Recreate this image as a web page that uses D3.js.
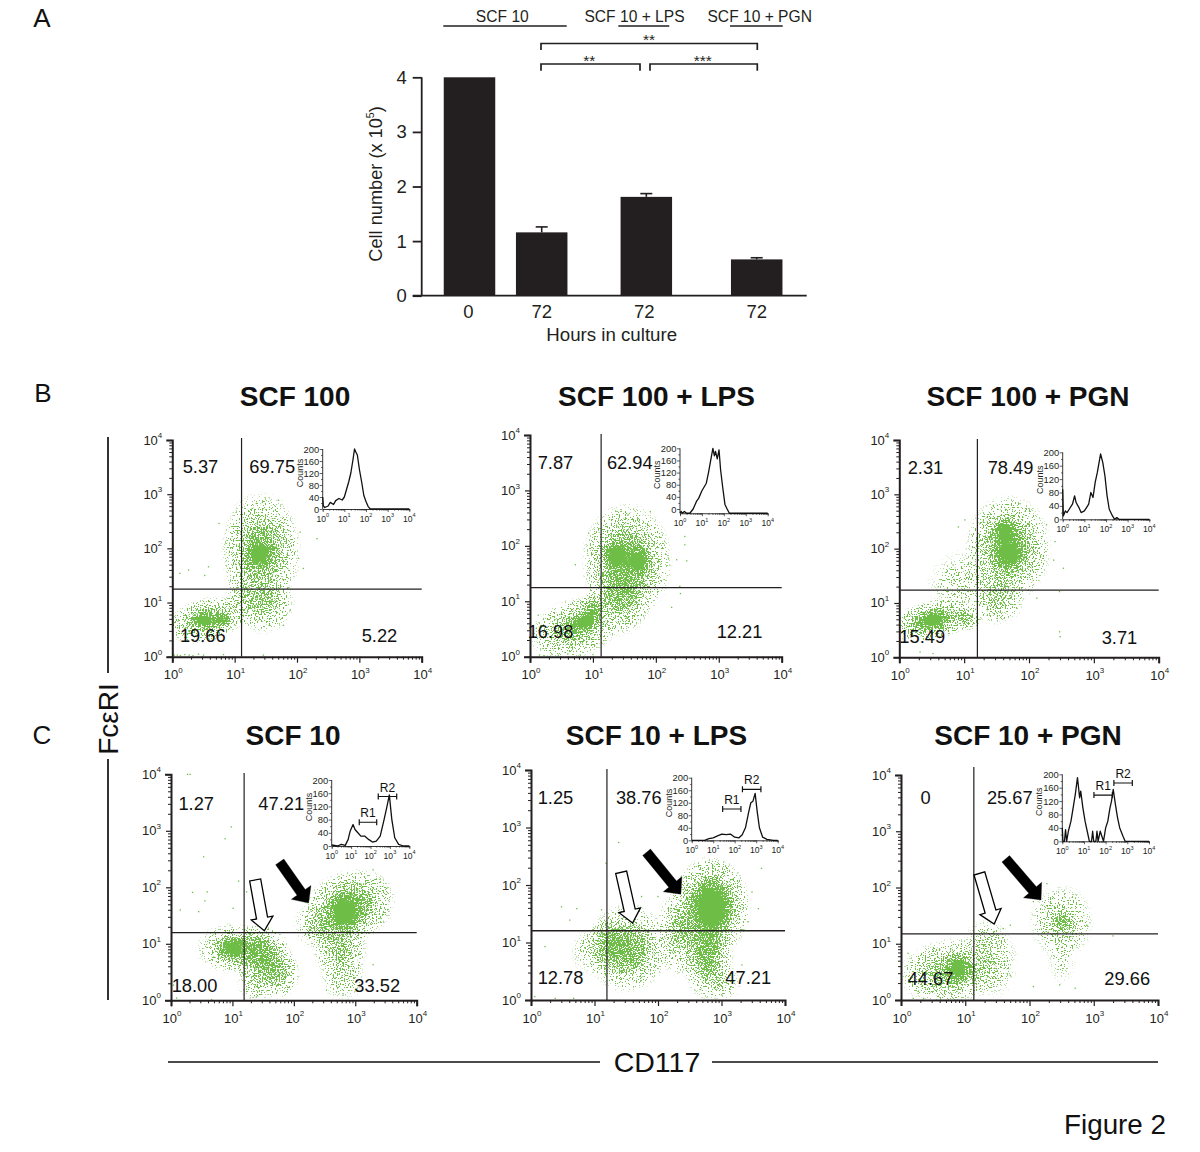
<!DOCTYPE html>
<html><head><meta charset="utf-8">
<script src="https://cdn.jsdelivr.net/npm/d3@7"></script>
<style>html,body{margin:0;background:#fff}svg{display:block;font-family:"Liberation Sans",Arial,sans-serif}</style>
</head><body><svg id="c" width="1200" height="1152"></svg>
<script>
// ---------- Panel A data ----------
const barGroups = ["SCF 10","SCF 10 + LPS","SCF 10 + PGN"];
const barSlots  = [0, 1, 2.449, 3.978];
const barHours  = ["0","72","72","72"];
const barValues = [4.0, 1.16, 1.81, 0.665];
const barErrors = [0, 0.10, 0.06, 0.03];
const barTicks  = [0,1,2,3,4];

// ---------- Flow panel text ----------
const titlesB = ["SCF 100","SCF 100 + LPS","SCF 100 + PGN"];
const titlesC = ["SCF 10","SCF 10 + LPS","SCF 10 + PGN"];
const quadB1 = ["5.37","69.75","19.66","5.22"];
const quadB2 = ["7.87","62.94","16.98","12.21"];
const quadB3 = ["2.31","78.49","15.49","3.71"];
const quadC1 = ["1.27","47.21","18.00","33.52"];
const quadC2 = ["1.25","38.76","12.78","47.21"];
const quadC3 = ["0","25.67","44.67","29.66"];
const decades = [1,10,100,1000,10000];
const countTicks = [0,40,80,120,160,200];

// ---------- Populations: [log10 x, log10 y, spread x, spread y, tilt, density] ----------
const popsB1 = [[1.42,1.95,.66,1.12,0,.62],[1.40,1.9,.26,.32,0,1],[1.46,1.0,.52,.6,0,.42],[.55,.68,.68,.42,-14,.62],[.5,.68,.24,.16,0,1],[.8,.68,.22,.18,0,.75],[1.12,1.1,.28,.55,0,.25]];
const popsB2 = [[1.54,1.72,.74,1.08,0,.7],[1.38,1.82,.26,.34,0,.95],[1.72,1.72,.26,.3,0,1],[1.42,1.05,.54,.7,0,.45],[.87,.63,.3,.22,-20,1],[.72,.52,.78,.56,-18,.55],[1,.85,.22,.32,0,.65]];
const popsB3 = [[1.68,2.0,.68,1.02,0,.68],[1.7,1.92,.28,.3,0,1],[1.62,2.3,.24,.38,0,.8],[1.5,1.09,.46,.52,0,.38],[.94,1.4,.58,.58,-35,.16],[.52,.69,.28,.18,-10,1],[.52,.68,.68,.38,-12,.7],[1.04,.72,.24,.24,0,.45]];
const popsC1 = [[2.83,1.55,.34,.42,-10,1],[2.9,1.65,.8,.66,-22,.7],[2.75,.92,.46,.6,0,.45],[2.43,1.33,.46,.46,0,.32],[1.01,.92,.32,.26,0,1],[1.0,.92,.62,.46,0,.45],[1.45,.82,.5,.55,0,.72],[1.72,.5,.4,.5,0,.5],[1.4,.3,.34,.34,0,.28],[2.8,.4,.4,.44,0,.2]];
const popsC2 = [[2.85,1.6,.32,.52,0,1],[2.83,1.62,.64,.9,0,.9],[2.78,.78,.42,.8,0,.65],[2.35,1.15,.42,.78,0,.42],[1.52,.9,.68,.8,0,.62],[1.25,.95,.33,.5,0,.4],[1.0,.85,.4,.45,0,.2],[3.0,.3,.34,.34,0,.22]];
const popsC3 = [[.89,.56,.26,.32,0,.85],[.8,.52,.88,.6,-8,.55],[1.44,.68,.4,.68,0,.22],[2.5,1.39,.18,.18,0,.5],[2.5,1.39,.52,.68,0,.34],[2.5,.7,.24,.46,0,.1],[1.33,1.09,.36,.4,0,.15]];

// ---------- Isolated dots: [log10 x, log10 y] ----------
const dotsB1 = [[1.35,2.83],[1.7,2.89],[.75,2.46],[2.32,2.18],[.12,1.54],[.26,1.6],[.58,1.66],[.52,1.5],[2.05,2.3],[2.02,1.82],[2.1,1.63],[1.89,.86],[1.78,.58],[1.46,.03],[.82,.04],[.03,.03],[.08,.03],[.13,.02],[.2,.04],[.27,.03],[.33,.02],[.42,.05],[.5,.03]];
const dotsB2 = [[1.91,2.62],[1.56,2.56],[2.46,2.17],[2.46,2.02],[2.49,1.73],[2.33,1.75],[2.38,1.27],[2.39,1.14],[2.25,.89],[2.2,1.78],[.93,2.23],[.72,1.66],[.13,.75],[.1,.51],[.15,.03],[.22,.02],[.35,.04],[.45,.03],[.6,.05],[.8,.03],[1,.04]];
const dotsB3 = [[.91,2.4],[1.01,2.53],[1.45,2.8],[1.86,2.83],[2.27,2.44],[2.4,2.13],[2.53,1.64],[2.38,1.79],[2.47,1.21],[2.47,.47],[2.48,.38],[.83,1.7],[.6,1.3],[2.12,1.09],[.52,.07],[.32,.1]];
const dotsC1 = [[.27,4],[.31,4],[.98,3.07],[.88,2.86],[.53,2.54],[1.1,2.11],[.35,1.91],[.59,1.92],[.55,1.76],[.15,1.6],[.45,1.57],[1.01,1.63],[1.23,1.92],[3.29,2.31],[3.51,1.98],[3.4,1.45],[.04,.27],[.09,.04],[.66,.01],[1.39,.06],[2.8,.09],[2.53,.18],[3.29,.63]];
const dotsC2 = [[1.38,2.74],[1.18,2.38],[3.63,2.29],[3.48,1.88],[3.58,1.59],[.48,1.62],[.72,1.59],[.22,.93],[.61,1.39],[1.11,1.57],[1.74,1.8],[2,1.8],[.67,.03],[.38,.03],[.06,.06],[3.42,1.36],[3.32,.61],[3,.09]];
const dotsC3 = [[3.3,1.14],[2.27,2.07],[2.06,1.75],[.11,.83],[.19,.03],[.35,.03],[1.7,.44],[2.06,.24],[2.47,.27],[2.71,.21],[2.89,1.33],[1.7,1.33],[1.59,1.27],[1.44,1.21]];

// ---------- Inset histograms: [log10 intensity, counts] ----------
const histB1 = [[0,40],[.03,10],[.1,5],[.25,10],[.35,22],[.5,15],[.6,28],[.75,35],[.9,30],[1,40],[1.1,65],[1.2,90],[1.3,120],[1.4,165],[1.47,200],[1.53,190],[1.6,180],[1.7,130],[1.8,90],[1.9,45],[2,25],[2.1,8],[2.2,0],[4,0]];
const histB2 = [[0,-14],[.05,-8],[.1,-14],[.2,-8],[.3,-14],[.45,-14],[.6,0],[.75,25],[.85,35],[1,60],[1.2,85],[1.3,120],[1.4,160],[1.5,200],[1.57,175],[1.62,190],[1.7,165],[1.78,195],[1.85,130],[1.95,70],[2.05,15],[2.15,0],[2.25,-14],[4,-14]];
const histB3 = [[0,90],[.03,10],[.12,25],[.2,20],[.3,30],[.45,45],[.55,70],[.62,50],[.75,35],[.85,20],[1,25],[1.1,35],[1.2,45],[1.3,80],[1.4,65],[1.5,110],[1.6,140],[1.75,195],[1.85,170],[1.95,130],[2.05,70],[2.15,30],[2.3,10],[2.4,0],[2.5,5],[2.6,0],[4,0]];
const histC1 = [[0,3],[.3,0],[.5,5],[.7,2],[.85,20],[.95,45],[1.1,65],[1.2,50],[1.35,40],[1.5,30],[1.7,30],[1.9,20],[2.1,12],[2.3,15],[2.5,30],[2.7,80],[2.85,120],[2.97,155],[3.1,80],[3.25,25],[3.45,5],[3.7,0],[4,0]];
const histC2 = [[0,0],[.6,0],[.8,5],[1,8],[1.2,14],[1.4,20],[1.6,18],[1.8,20],[2,10],[2.2,8],[2.35,18],[2.5,40],[2.65,90],[2.75,120],[2.85,125],[2.95,150],[3.05,90],[3.15,40],[3.3,10],[3.5,3],[3.8,0],[4,0]];
const histC3 = [[0,40],[.03,0],[.1,0],[.15,35],[.2,0],[.28,30],[.4,60],[.5,100],[.6,140],[.7,190],[.8,130],[.85,150],[.95,100],[1.05,60],[1.15,30],[1.25,0],[1.35,0],[1.4,30],[1.45,0],[1.55,0],[1.6,30],[1.65,0],[1.75,30],[1.9,0],[2,40],[2.1,60],[2.2,100],[2.27,120],[2.35,155],[2.45,110],[2.55,70],[2.65,40],[2.8,15],[2.9,0],[4,0]];

// ---------- Gates on insets: [from, to, counts level] ----------
const gatesC1 = [[1.42,2.32,72,"R1"],[2.4,3.35,150,"R2"]];
const gatesC2 = [[1.44,2.29,100,"R1"],[2.36,3.22,163,"R2"]];
const gatesC3 = [[1.46,2.31,138,"R1"],[2.38,3.23,174,"R2"]];

// ---------- Arrows in log10 units ----------
const arrowsC1 = [[1.77,2.45,2.24,1.72,"k"],[1.37,2.13,1.52,1.23,"w"]];
const arrowsC2 = [[1.82,2.57,2.36,1.84,"k"],[1.42,2.22,1.60,1.34,"w"]];
const arrowsC3 = [[1.63,2.51,2.18,1.78,"k"],[1.22,2.25,1.45,1.35,"w"]];

const GREEN = "#6dbd47", INK = "#231f20";
const svg = d3.select("#c");
const defs = svg.append("defs");
const grad = defs.append("radialGradient").attr("id","pop");
[[0,1],[.3,.85],[.6,.36],[.85,.1],[1,0]].forEach(s=>grad.append("stop").attr("offset",s[0]).attr("stop-color","#000").attr("stop-opacity",s[1]));

function txt(g,s,x,y,size,o={}){
  return g.append("text").attr("x",x).attr("y",y).attr("font-size",size).attr("fill",o.fill||INK)
    .attr("text-anchor",o.anchor||"middle").attr("dominant-baseline",o.base||"central")
    .attr("font-weight",o.weight||null).text(s);
}
function pow10(sel,sup){
  sel.each(function(d){
    const t=d3.select(this); t.text(null);
    t.append("tspan").text("10");
    t.append("tspan").attr("font-size",sup).attr("dy",-sup*.55).text(Math.round(Math.log10(d)));
  });
}
function logTicks(){ const a=[]; for(let k=0;k<4;k++) for(let m=1;m<10;m++) a.push(m*10**k); a.push(1e4); return a; }
function styleTicks(ax,w){
  ax.select(".domain").attr("stroke",INK).attr("stroke-width",w);
  ax.selectAll(".tick line").attr("stroke",INK).attr("stroke-width",Math.max(.7,w*.5));
  return ax;
}

// ---------- Panel A ----------
(function(){
  const g=svg.append("g");
  const x=d3.scaleLinear().domain([0,1]).range([469.5,541.7]);
  const y=d3.scaleLinear().domain([0,4]).range([295.7,77.3]);
  const bw=51.5;
  g.selectAll("rect.bar").data(barValues).join("rect").attr("class","bar")
    .attr("x",(d,i)=>x(barSlots[i])-bw/2).attr("width",bw)
    .attr("y",d=>y(d)).attr("height",d=>y(0)-y(d)).attr("fill",INK);
  barValues.forEach((v,i)=>{ if(!barErrors[i]) return;
    const cx=x(barSlots[i]), t=y(v+barErrors[i]);
    g.append("line").attr("x1",cx).attr("x2",cx).attr("y1",y(v)).attr("y2",t).attr("stroke",INK).attr("stroke-width",1.6);
    g.append("line").attr("x1",cx-6).attr("x2",cx+6).attr("y1",t).attr("y2",t).attr("stroke",INK).attr("stroke-width",1.6);
  });
  const ay=g.append("g").attr("transform","translate(421.7,0)")
    .call(d3.axisLeft(y).tickValues(barTicks).tickFormat(d3.format("d")).tickSize(9).tickPadding(6));
  styleTicks(ay,1.8); ay.selectAll(".tick line").attr("stroke-width",1.8);
  ay.select(".domain").attr("d","M0,77.3V295.7");
  ay.selectAll("text").attr("font-size",18.5).attr("font-family","inherit").attr("fill",INK);
  g.append("line").attr("x1",412.7).attr("x2",806.7).attr("y1",y(0)).attr("y2",y(0)).attr("stroke",INK).attr("stroke-width",1.8);
  barHours.forEach((h,i)=>txt(g,h,x(barSlots[i])-(i==0?1:i==2?2:0),311.5,18.5));
  txt(g,"Hours in culture",611.7,334.5,18.7);
  const yl=g.append("text").attr("transform","translate(376,184) rotate(-90)").attr("text-anchor","middle").attr("dominant-baseline","central").attr("font-size",18.2).attr("fill",INK);
  yl.append("tspan").text("Cell number (x 10");
  yl.append("tspan").attr("font-size",10.5).attr("dy",-6).text("5");
  yl.append("tspan").attr("dy",6).text(")");
  [[502.3,443.3,566.7],[634.5,618.3,669.3],[759.7,730,782.7]].forEach((p,i)=>{
    txt(g,barGroups[i],p[0],16.7,15.6);
    g.append("line").attr("x1",p[1]).attr("x2",p[2]).attr("y1",26).attr("y2",26).attr("stroke",INK).attr("stroke-width",1.6);
  });
  [[541,757.3,43.5,50,"**",649,37.5],[541,640,64,70.7,"**",589.3,58.5],[650,757.3,64,70.7,"***",702.7,58.5]].forEach(b=>{
    g.append("path").attr("fill","none").attr("stroke",INK).attr("stroke-width",1.7)
      .attr("d",`M${b[0]},${b[3]}V${b[2]}H${b[1]}V${b[3]}`);
    txt(g,b[4],b[5],b[6]+2,15.5);
  });
})();

// ---------- Flow panels ----------
function flow(cfg,idx){
  const g=svg.append("g");
  const x=d3.scaleLog().domain([1,1e4]).range([cfg.x0,cfg.x4]);
  const y=d3.scaleLog().domain([1,1e4]).range([cfg.y0,cfg.y4]);
  const X=l=>x(10**l), Y=l=>y(10**l);
  const fid="speckle"+idx;
  const f=defs.append("filter").attr("id",fid).attr("filterUnits","userSpaceOnUse")
    .attr("x",cfg.x0).attr("y",cfg.y4).attr("width",cfg.x4-cfg.x0).attr("height",cfg.y0-cfg.y4)
    .attr("color-interpolation-filters","sRGB");
  f.append("feTurbulence").attr("type","fractalNoise").attr("baseFrequency",.72).attr("numOctaves",2).attr("seed",idx*7+3).attr("result","n");
  f.append("feColorMatrix").attr("in","n").attr("type","matrix").attr("values","0 0 0 0 0  0 0 0 0 0  0 0 0 0 0  3.4 0 0 0 -1.2").attr("result","na");
  f.append("feComposite").attr("in","SourceGraphic").attr("in2","na").attr("operator","arithmetic")
    .attr("k1",0).attr("k2",1.3).attr("k3",1).attr("k4",-1).attr("result","c");
  const ct=f.append("feComponentTransfer").attr("in","c").attr("result","t");
  ct.append("feFuncA").attr("type","linear").attr("slope",9).attr("intercept",0);
  f.append("feFlood").attr("flood-color",GREEN).attr("result","col");
  f.append("feComposite").attr("in","col").attr("in2","t").attr("operator","in");
  const dens=g.append("g").attr("filter",`url(#${fid})`);
  dens.selectAll("ellipse").data(cfg.pops).join("ellipse")
    .attr("transform",d=>`translate(${X(d[0])},${Y(d[1])}) rotate(${d[4]})`)
    .attr("rx",d=>X(d[0]+d[2])-X(d[0])).attr("ry",d=>Y(d[1])-Y(d[1]+d[3]))
    .attr("fill","url(#pop)").attr("opacity",d=>d[5]);
  g.selectAll("rect.dot").data(cfg.dots).join("rect").attr("class","dot")
    .attr("x",d=>X(d[0])-.6).attr("y",d=>Y(d[1])-.6).attr("width",1.3).attr("height",1.3).attr("fill",GREEN);
  g.append("line").attr("x1",x(cfg.gx)).attr("x2",x(cfg.gx)).attr("y1",cfg.gTop).attr("y2",y(1)).attr("stroke",INK).attr("stroke-width",1.2);
  g.append("line").attr("x1",x(1)).attr("x2",x(1e4)).attr("y1",y(cfg.gy)).attr("y2",y(cfg.gy)).attr("stroke",INK).attr("stroke-width",1.3);
  const ticks=logTicks();
  const ax=g.append("g").attr("transform",`translate(0,${cfg.y0})`).call(d3.axisBottom(x).tickValues(ticks).tickFormat(""));
  styleTicks(ax,2);
  ax.selectAll(".tick").filter(d=>!decades.includes(d)).select("line").attr("y2",3);
  ax.selectAll(".tick").filter(d=>decades.includes(d)).select("line").attr("y2",6).attr("stroke-width",1.2);
  const ay=g.append("g").attr("transform",`translate(${cfg.x0},0)`).call(d3.axisLeft(y).tickValues(ticks).tickFormat(""));
  styleTicks(ay,2);
  ay.selectAll(".tick").filter(d=>!decades.includes(d)).select("line").attr("x2",-3);
  ay.selectAll(".tick").filter(d=>decades.includes(d)).select("line").attr("x2",-5).attr("stroke-width",1.2);
  g.selectAll("text.xt").data(decades).join("text").attr("class","xt").attr("x",d=>x(d)+1).attr("y",cfg.y0+17.5).attr("text-anchor","middle").attr("dominant-baseline","central").attr("font-size",13).attr("fill",INK).call(pow10,8);
  g.selectAll("text.yt").data(decades).join("text").attr("class","yt").attr("x",cfg.x0-10).attr("y",d=>y(d)-.5).attr("text-anchor","end").attr("dominant-baseline","central").attr("font-size",13).attr("fill",INK).call(pow10,8);
  txt(g,cfg.title,cfg.tx,cfg.ty-.5,28,{weight:"bold",fill:"#111"});
  cfg.quad.forEach((s,i)=>txt(g,s,cfg.qp[i][0]+.5,cfg.qp[i][1]-.5,18.3,{fill:"#111"}));
  const ix=d3.scaleLinear().domain([0,4]).range([cfg.ix0,cfg.ix4]);
  const ixl=d3.scaleLog().domain([1,1e4]).range([cfg.ix0,cfg.ix4]);
  const iy=d3.scaleLinear().domain([0,200]).range([cfg.iy0,cfg.iy2]);
  const base=iy(d3.min(cfg.hist,d=>d[1]));
  const iax=g.append("g").attr("transform",`translate(0,${base})`).call(d3.axisBottom(ixl).tickValues(ticks).tickFormat("").tickSize(1.6));
  styleTicks(iax,.9);
  iax.selectAll(".tick").filter(d=>decades.includes(d)).select("line").attr("y2",3);
  const iay=g.append("g").attr("transform",`translate(${cfg.ix0},0)`).call(d3.axisLeft(iy).tickValues(d3.range(0,201,20)).tickFormat("").tickSize(1.6));
  styleTicks(iay,.9);
  iay.select(".domain").attr("d",`M0,${base}V${iy(200)}`);
  iay.selectAll(".tick").filter(d=>d%40==0).select("line").attr("x2",-3);
  countTicks.forEach(c=>txt(g,c,cfg.ix0-3.5,iy(c),9.4,{anchor:"end"}));
  g.selectAll("text.ixt").data(decades).join("text").attr("class","ixt").attr("x",d=>ixl(d)).attr("y",base+9.5).attr("text-anchor","middle").attr("dominant-baseline","central").attr("font-size",8.6).attr("fill",INK).call(pow10,5.5);
  g.append("text").attr("transform",`translate(${cfg.ix0-23},${iy(100)+(base-iy(0))/2-6}) rotate(-90)`).attr("text-anchor","middle").attr("dominant-baseline","central").attr("font-size",9).attr("fill",INK).text("Counts");
  const line=d3.line().x(d=>ix(d[0])).y(d=>iy(d[1]));
  g.append("path").datum(cfg.hist).attr("d",line).attr("fill","none").attr("stroke","#111").attr("stroke-width",1.3).attr("stroke-linejoin","round");
  (cfg.gates||[]).forEach(r=>{
    const a=ix(r[0]),b=ix(r[1]),v=iy(r[2]);
    g.append("path").attr("d",`M${a},${v-3}V${v+3}M${a},${v}H${b}M${b},${v-3}V${v+3}`).attr("fill","none").attr("stroke","#111").attr("stroke-width",1.2);
    txt(g,r[3],(a+b)/2,v-9,12,{fill:"#111"});
  });
  (cfg.arrows||[]).forEach(a=>{
    const x1=X(a[0]),y1=Y(a[1]),x2=X(a[2]),y2=Y(a[3]);
    const L=Math.hypot(x2-x1,y2-y1),ux=(x2-x1)/L,uy=(y2-y1)/L,nx=-uy,ny=ux;
    const black=a[4]=="k", sw=black?5:5.6, hw=black?12:11, hl=13;
    const bx=x2-ux*hl,by=y2-uy*hl;
    const pts=[[x1+nx*sw,y1+ny*sw],[bx+nx*sw,by+ny*sw],[bx+nx*hw,by+ny*hw],[x2,y2],[bx-nx*hw,by-ny*hw],[bx-nx*sw,by-ny*sw],[x1-nx*sw,y1-ny*sw]];
    g.append("polygon").attr("points",pts.map(p=>p.join(",")).join(" "))
      .attr("fill",black?"#000":"#fff").attr("stroke","#000").attr("stroke-width",black?.3:1.3);
  });
}

const layouts=[
 {x0:172.3,x4:421.7,y0:656.7,y4:440,gx:12.9,gy:17.7,gTop:438,title:titlesB[0],tx:295,ty:397,quad:quadB1,qp:[[200,466.7],[271.7,466.7],[202.3,635.7],[379,635.7]],pops:popsB1,dots:dotsB1,hist:histB1,ix0:322.7,ix4:409.3,iy0:509,iy2:449},
 {x0:530,x4:781.7,y0:656.7,y4:435,gx:13.5,gy:17.6,gTop:434,title:titlesB[1],tx:656.5,ty:397,quad:quadB2,qp:[[555,462.7],[629.3,462.7],[550,632.3],[739,632.3]],pops:popsB2,dots:dotsB2,hist:histB2,ix0:680,ix4:767.7,iy0:509,iy2:448.3},
 {x0:899.3,x4:1158.7,y0:657.3,y4:440,gx:16,gy:17.2,gTop:439,title:titlesB[2],tx:1028,ty:397,quad:quadB3,qp:[[925,468.3],[1010,468.3],[921.7,637],[1119,637.7]],pops:popsB3,dots:dotsB3,hist:histB3,ix0:1062.7,ix4:1149.3,iy0:519.3,iy2:452.3},
 {x0:171,x4:416.7,y0:1000.3,y4:774.3,gx:15.5,gy:15.8,gTop:773,title:titlesC[0],tx:293,ty:736,quad:quadC1,qp:[[195.7,804.3],[280.7,804.3],[194,985.7],[376.7,985.7]],pops:popsC1,dots:dotsC1,hist:histC1,ix0:331.7,ix4:409.3,iy0:846,iy2:780,gates:gatesC1,arrows:arrowsC1},
 {x0:531,x4:785,y0:1000,y4:770,gx:15.7,gy:16,gTop:769,title:titlesC[1],tx:656.5,ty:736,quad:quadC2,qp:[[555,797.7],[638.3,797.7],[560,978.3],[747.7,978.3]],pops:popsC2,dots:dotsC2,hist:histC2,ix0:691.7,ix4:777.7,iy0:840.3,iy2:777.7,gates:gatesC2,arrows:arrowsC2},
 {x0:901,x4:1158,y0:1000,y4:775,gx:13.6,gy:15,gTop:767,title:titlesC[2],tx:1028,ty:736,quad:quadC3,qp:[[925,797.7],[1009.3,797.7],[930,979],[1126.7,979]],pops:popsC3,dots:dotsC3,hist:histC3,ix0:1062.3,ix4:1149,iy0:841.3,iy2:774.3,gates:gatesC3,arrows:arrowsC3}
];
layouts.forEach(flow);

// ---------- Figure-level labels ----------
const F=svg.append("g");
txt(F,"A",42,18,26,{fill:"#111"}); txt(F,"B",43,393,26,{fill:"#111"}); txt(F,"C",42,735,26,{fill:"#111"});
F.append("text").attr("transform","translate(108,719) rotate(-90)").attr("text-anchor","middle").attr("dominant-baseline","central").attr("font-size",28).attr("fill","#111").text("FcεRI");
F.append("path").attr("d","M108,437V673M108,759V1000M168,1062H600M712,1062H1158").attr("fill","none").attr("stroke","#111").attr("stroke-width",1.7);
txt(F,"CD117",657,1062,28.5,{fill:"#111"});
txt(F,"Figure 2",1166,1124,27.8,{anchor:"end",fill:"#111"});
</script></body></html>
